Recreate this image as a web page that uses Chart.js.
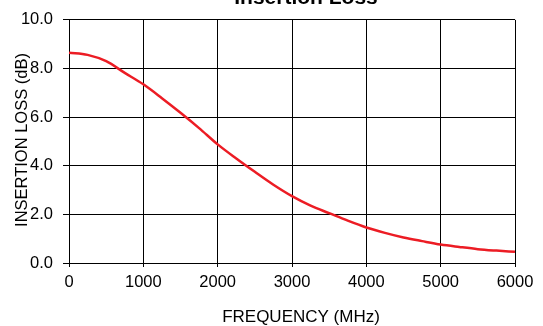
<!DOCTYPE html>
<html>
<head>
<meta charset="utf-8">
<script src="https://cdn.jsdelivr.net/npm/chart.js@4"></script>
<style>
  html, body { margin: 0; padding: 0; background: #fff; }
  canvas { display: block; }
</style>
</head>
<body>
<canvas id="chart" width="543" height="326"></canvas>
<script>
const TITLE = 'Insertion Loss';
const X_TITLE = 'FREQUENCY (MHz)';
const Y_TITLE = 'INSERTION LOSS (dB)';

// frequency in MHz, loss in dB
const FREQ = [0, 250, 500, 750, 1000, 1250, 1500, 1750, 2000, 2250, 2500, 2750, 3000,
              3250, 3500, 3750, 4000, 4250, 4500, 4750, 5000, 5250, 5500, 5750, 6000];
const LOSS = [8.65, 8.56, 8.3, 7.82, 7.35, 6.78, 6.18, 5.55, 4.88, 4.3, 3.75, 3.22, 2.75,
              2.36, 2.05, 1.74, 1.46, 1.24, 1.05, 0.9, 0.76, 0.66, 0.57, 0.51, 0.46];

const X_TICKS = [0, 1000, 2000, 3000, 4000, 5000, 6000];
const Y_TICKS = [0, 2, 4, 6, 8, 10];

const RED = '#ec1c24';
const FONT = '"Liberation Sans", Arial, Helvetica, sans-serif';

Chart.defaults.font.family = FONT;
Chart.defaults.color = '#000';

// axis + chart titles, placed like the datasheet original
const titles = {
  id: 'titles',
  afterDraw(chart) {
    const ctx = chart.ctx;
    ctx.save();
    ctx.fillStyle = '#000';
    ctx.textAlign = 'center';
    ctx.textBaseline = 'alphabetic';

    ctx.font = 'bold 21px ' + FONT;
    ctx.fillText(TITLE, 306, 4);

    ctx.font = '17px ' + FONT;
    ctx.fillText(X_TITLE, 301, 321.5);

    ctx.font = '16.5px ' + FONT;
    ctx.translate(27, 140);
    ctx.rotate(-Math.PI / 2);
    ctx.fillText(Y_TITLE, 0, 0);
    ctx.restore();
  }
};

new Chart(document.getElementById('chart'), {
  type: 'line',
  data: {
    datasets: [{
      data: FREQ.map((f, i) => ({ x: f, y: LOSS[i] })),
      borderColor: RED,
      borderWidth: 2.5,
      pointRadius: 0,
      cubicInterpolationMode: 'monotone',
      fill: false,
    }],
  },
  options: {
    responsive: false,
    animation: false,
    layout: { padding: { top: 16, right: 28, left: 0, bottom: 0 } },
    plugins: { legend: { display: false }, tooltip: { enabled: false } },
    scales: {
      x: {
        type: 'linear',
        min: 0,
        max: 6000,
        afterBuildTicks: s => { s.ticks = X_TICKS.map(v => ({ value: v })); },
        afterFit: s => { s.height = 63; },
        grid: { color: '#000', lineWidth: 1, tickLength: 4 },
        border: { color: '#000', width: 1 },
        ticks: { padding: 6, maxRotation: 0, font: { size: 16.5 }, color: '#000',
                 callback: v => String(v) },
      },
      y: {
        min: 0,
        max: 10,
        afterBuildTicks: s => { s.ticks = Y_TICKS.map(v => ({ value: v })); },
        afterFit: s => { s.width = 69; },
        grid: { color: '#000', lineWidth: 1, tickLength: 6 },
        border: { color: '#000', width: 1 },
        ticks: { padding: 10, font: { size: 16.5 }, color: '#000',
                 callback: v => v.toFixed(1) },
      },
    },
  },
  plugins: [titles],
});
</script>
</body>
</html>
